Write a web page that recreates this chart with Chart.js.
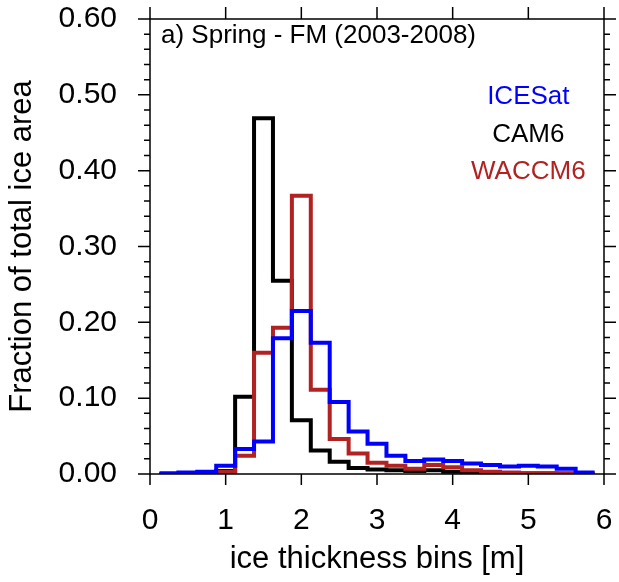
<!DOCTYPE html>
<html>
<head>
<meta charset="utf-8">
<script src="https://cdn.jsdelivr.net/npm/chart.js@4.4.1/dist/chart.umd.min.js"></script>
<style>
  html, body { margin: 0; padding: 0; background: #fff; }
</style>
</head>
<body>
<canvas id="iceChart" width="619" height="582"></canvas>
<script>
// bin centres [m], bins are 0.25 m wide
const binCenters = [0.25, 0.5, 0.75, 1.0, 1.25, 1.5, 1.75, 2.0, 2.25, 2.5, 2.75, 3.0,
                    3.25, 3.5, 3.75, 4.0, 4.25, 4.5, 4.75, 5.0, 5.25, 5.5, 5.75];
const binWidth = 0.25;

const icesat = [0.001, 0.002, 0.003, 0.011, 0.033, 0.043, 0.179, 0.215, 0.173, 0.095, 0.056, 0.040,
                0.024, 0.017, 0.019, 0.017, 0.014, 0.012, 0.010, 0.011, 0.010, 0.007, 0.002];
const cam6 = [0.000, 0.000, 0.001, 0.004, 0.102, 0.469, 0.255, 0.071, 0.031, 0.016, 0.008, 0.006,
              0.005, 0.004, 0.005, 0.003, 0.002, 0.001, 0.001, 0.0005, 0.0005, 0.0003, 0.0003];
const waccm6 = [0.000, 0.000, 0.001, 0.003, 0.024, 0.160, 0.193, 0.367, 0.111, 0.046, 0.027, 0.015,
                0.011, 0.007, 0.012, 0.009, 0.005, 0.003, 0.002, 0.001, 0.001, 0.001, 0.001];

const xTicks = [0, 1, 2, 3, 4, 5, 6];
const yTicks = [0, 0.1, 0.2, 0.3, 0.4, 0.5, 0.6];
const seriesNames = ['ICESat', 'CAM6', 'WACCM6'];
const panelTitle = 'a) Spring - FM (2003-2008)';

const FONT = "'Liberation Sans', Arial, Helvetica, sans-serif";
const BLUE = '#0000ff';
const BLACK = '#000000';
const RED = '#b22222';

// turn bins into left-edge points plus one closing point for the step line
function toSteps(vals) {
    const pts = binCenters.map((c, i) => ({ x: c - binWidth / 2, y: vals[i] }));
    const last = binCenters.length - 1;
    pts.push({ x: binCenters[last] + binWidth / 2, y: vals[last] });
    return pts;
}

function stepSet(label, vals, color, order) {
    return {
        label: label,
        data: toSteps(vals),
        borderColor: color,
        borderWidth: 4,
        borderJoinStyle: 'miter',
        borderCapStyle: 'butt',
        stepped: 'before',
        pointRadius: 0,
        fill: false,
        order: order
    };
}

// frame with outward ticks on all four sides, plus panel title and legend text
const frameTicks = {
    id: 'frameTicks',
    afterDatasetsDraw(chart) {
        const { ctx, chartArea: a, scales: { x, y } } = chart;
        ctx.save();
        ctx.strokeStyle = '#000';
        ctx.lineWidth = 1.5;
        ctx.strokeRect(a.left, a.top, a.right - a.left, a.bottom - a.top);

        ctx.beginPath();
        for (let i = 0; i <= 30; i++) {
            const py = y.getPixelForValue(i * 0.02);
            const len = i % 5 === 0 ? 12 : 6;
            ctx.moveTo(a.left, py); ctx.lineTo(a.left - len, py);
            ctx.moveTo(a.right, py); ctx.lineTo(a.right + len, py);
        }
        xTicks.forEach(v => {
            const px = x.getPixelForValue(v);
            ctx.moveTo(px, a.bottom); ctx.lineTo(px, a.bottom + 11);
            ctx.moveTo(px, a.top); ctx.lineTo(px, a.top - 12);
        });
        ctx.stroke();

        ctx.font = '26px ' + FONT;
        ctx.fillStyle = '#000';
        ctx.textAlign = 'left';
        ctx.textBaseline = 'alphabetic';
        ctx.fillText(panelTitle, a.left + 11, a.top + 24);

        ctx.textAlign = 'center';
        const lx = x.getPixelForValue(5.0);
        const legendY = [0.488, 0.438, 0.389];
        const legendColors = [BLUE, BLACK, RED];
        seriesNames.forEach((name, i) => {
            ctx.fillStyle = legendColors[i];
            ctx.fillText(name, lx, y.getPixelForValue(legendY[i]));
        });
        ctx.restore();
    }
};

const ctx = document.getElementById('iceChart').getContext('2d');
new Chart(ctx, {
    type: 'line',
    data: {
        datasets: [
            stepSet(seriesNames[0], icesat, BLUE, 1),
            stepSet(seriesNames[2], waccm6, RED, 2),
            stepSet(seriesNames[1], cam6, BLACK, 3)
        ]
    },
    options: {
        responsive: false,
        animation: false,
        devicePixelRatio: 1,
        layout: { padding: { left: 0, right: 15, top: 19, bottom: 0 } },
        plugins: {
            legend: { display: false },
            tooltip: { enabled: false }
        },
        scales: {
            x: {
                type: 'linear',
                min: 0,
                max: 6,
                afterFit: s => {
                    s.height = 108;
                    s.paddingLeft = 0;
                    s.paddingRight = 0;
                },
                afterBuildTicks: s => { s.ticks = xTicks.map(v => ({ value: v })); },
                grid: { display: false, drawTicks: false },
                border: { display: false },
                ticks: {
                    color: '#000',
                    padding: 29,
                    maxRotation: 0,
                    font: { family: FONT, size: 30 },
                    callback: v => String(v)
                },
                title: {
                    display: true,
                    text: 'ice thickness bins [m]',
                    color: '#000',
                    font: { family: FONT, size: 31 },
                    padding: { top: 0, bottom: 4 }
                }
            },
            y: {
                min: 0,
                max: 0.6,
                afterFit: s => {
                    s.width = 150;
                    s.paddingTop = 0;
                    s.paddingBottom = 0;
                },
                afterBuildTicks: s => { s.ticks = yTicks.map(v => ({ value: v })); },
                grid: { display: false, drawTicks: false },
                border: { display: false },
                ticks: {
                    color: '#000',
                    padding: 33,
                    font: { family: FONT, size: 30 },
                    callback: v => v.toFixed(2)
                },
                title: {
                    display: true,
                    text: 'Fraction of total ice area',
                    color: '#000',
                    font: { family: FONT, size: 31 },
                    padding: { top: 4, bottom: 0 }
                }
            }
        }
    },
    plugins: [frameTicks]
});
</script>
</body>
</html>
